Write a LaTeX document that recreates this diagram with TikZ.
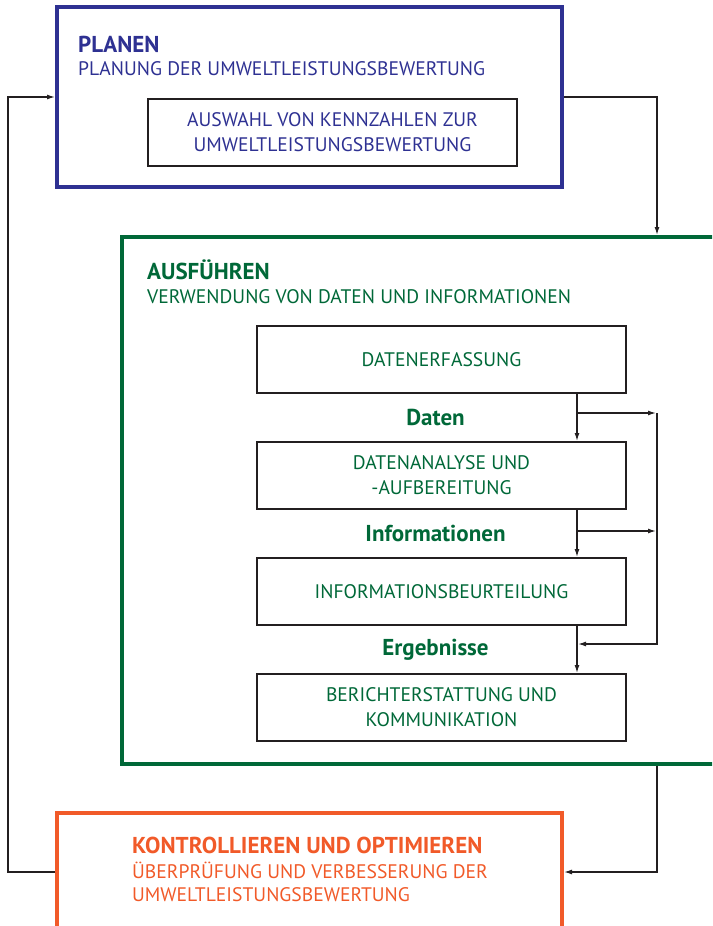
\documentclass[tikz,border=0pt]{standalone}
\usepackage{fontspec}
\setmainfont{PT Sans}
\usetikzlibrary{arrows.meta,positioning}
\definecolor{planblue}{RGB}{46,49,146}
\definecolor{dogreen}{RGB}{0,104,56}
\definecolor{checkorange}{RGB}{241,90,41}
\definecolor{lineblack}{RGB}{35,31,32}

\begin{document}
\begin{tikzpicture}[
  x=1pt, y=-1pt,
  node distance=47pt,
  frame/.style={rectangle, line width=4pt, inner sep=0pt},
  box/.style={rectangle, draw=lineblack, line width=1.6pt, minimum width=369.4pt, minimum height=67.4pt, align=center, font=\fontsize{19.6}{25}\selectfont, inner sep=0pt},
  ttl/.style={anchor=base west, inner sep=0pt, font=\fontsize{23}{23}\selectfont\bfseries},
  sub/.style={anchor=base west, inner sep=0pt, font=\fontsize{19.6}{23}\selectfont},
  lbl/.style={font=\fontsize{23}{23}\selectfont\bfseries, text=dogreen},
  arr/.style={-{Latex[length=8pt,width=5pt]}, line width=1.3pt, draw=lineblack}
]
\useasboundingbox (0,0) rectangle (712,926);
\clip (0,0) rectangle (712,926);

% the three phases
\node[frame, draw=planblue, minimum width=505pt, minimum height=180pt] (plan) at (309.5,97) {};
\node[frame, draw=dogreen, minimum width=638pt, minimum height=527pt] (ausf) at (441,500.5) {};
\node[frame, draw=checkorange, minimum width=505pt, minimum height=118pt] (kontr) at (309.5,872) {};

% planen
\node[ttl, text=planblue] (plantitle) at (78,52) {PLANEN};
\node[sub, text=planblue] (plansub) at (78,75) {PLANUNG DER UMWELTLEISTUNGSBEWERTUNG};
\node[box, text=planblue] (kennz) at (332.5,132.5) {AUSWAHL VON KENNZAHLEN ZUR\\UMWELTLEISTUNGSBEWERTUNG};

% ausfuehren
\node[ttl, text=dogreen] (ausftitle) at (147,279) {AUSFÜHREN};
\node[sub, text=dogreen] (ausfsub) at (147,303) {VERWENDUNG VON DATEN UND INFORMATIONEN};
\node[box, text=dogreen] (erfass) at (441.5,359.5) {DATENERFASSUNG};
\node[box, text=dogreen, below=of erfass] (analyse) {DATENANALYSE UND\\-AUFBEREITUNG};
\node[box, text=dogreen, below=of analyse] (beurteil) {INFORMATIONSBEURTEILUNG};
\node[box, text=dogreen, below=of beurteil] (bericht) {BERICHTERSTATTUNG UND\\KOMMUNIKATION};
\path (erfass.south) -- (analyse.north) node[midway, lbl, xshift=-6pt] (ldaten) {Daten};
\path (analyse.south) -- (beurteil.north) node[midway, lbl, xshift=-6pt] (linfo) {Informationen};
\path (beurteil.south) -- (bericht.north) node[midway, lbl, xshift=-6pt] (lerg) {Ergebnisse};

% kontrollieren
\node[ttl, text=checkorange] (kontrtitle) at (132,853) {KONTROLLIEREN UND OPTIMIEREN};
\node[sub, text=checkorange] (kontrsub) at (132,878) {ÜBERPRÜFUNG UND VERBESSERUNG DER};
\node[sub, text=checkorange] (kontrsubb) at (132,901) {UMWELTLEISTUNGSBEWERTUNG};

% connectors
\coordinate (lbus) at (8,0);
\coordinate (rbus) at (657,0);
\coordinate (fbus) at (577,0);
\coordinate (fb1) at (577,413);
\coordinate (fb2) at (577,531);
\coordinate (fb3) at (577,644);

\draw[arr] (plan.east) -| (ausf.north -| rbus);
\draw[arr] (ausf.south -| rbus) |- (kontr.east);
\draw[arr] (kontr.west) -- (kontr.west -| lbus) |- (plan.west);

\draw[arr] (erfass.south -| fbus) -- (analyse.north -| fbus);
\draw[arr] (analyse.south -| fbus) -- (beurteil.north -| fbus);
\draw[arr] (beurteil.south -| fbus) -- (bericht.north -| fbus);
\draw[arr] (fb1) -- ([xshift=-1pt]fb1 -| rbus);
\draw[arr] (fb2) -- ([xshift=-1pt]fb2 -| rbus);
\draw[arr] (fb1 -| rbus) -- (fb3 -| rbus) -- ([xshift=1pt]fb3);
\end{tikzpicture}
\end{document}
